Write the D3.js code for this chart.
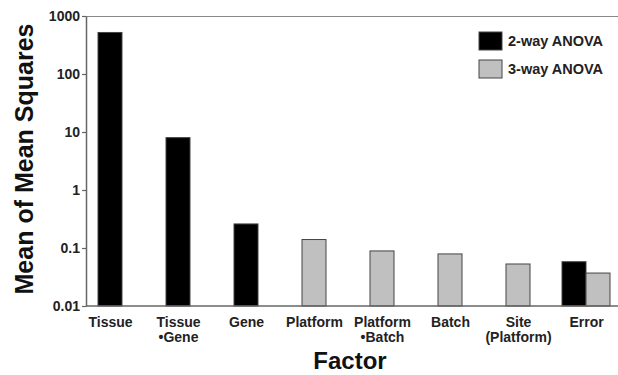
<!DOCTYPE html>
<html>
<head>
<meta charset="utf-8">
<script src="https://cdn.jsdelivr.net/npm/d3@7"></script>
<style>
  body { margin: 0; background: #fff; }
  svg { font-family: "Liberation Sans", Arial, sans-serif; }
</style>
</head>
<body>
<svg id="chart" width="618" height="375"></svg>
<script>
// chart data
var factors = ["Tissue", "Tissue\n\u2022Gene", "Gene", "Platform", "Platform\n\u2022Batch", "Batch", "Site\n(Platform)", "Error"];
var twoWay = [520, 8, 0.26, null, null, null, null, 0.058];
var threeWay = [null, null, null, 0.14, 0.089, 0.079, 0.053, 0.037];
var seriesNames = ["2-way ANOVA", "3-way ANOVA"];
var yTicks = [0.01, 0.1, 1, 10, 100, 1000];

var plotLeft = 86, plotRight = 618, plotTop = 16, plotBottom = 306;
var barWidth = 24;
var colors = ["#000000", "#c0c0c0"];

var svg = d3.select("#chart");

var x = d3.scalePoint()
  .domain(d3.range(factors.length))
  .range([110, 586]);

var y = d3.scaleLog()
  .domain([0.01, 1000])
  .range([plotBottom, plotTop]);

// top frame line
svg.append("line")
  .attr("x1", plotLeft).attr("x2", plotRight)
  .attr("y1", plotTop + 0.5).attr("y2", plotTop + 0.5)
  .attr("stroke", "#888").attr("stroke-width", 1.2);

// bars
var bars = [];
factors.forEach(function(f, i) {
  var both = twoWay[i] != null && threeWay[i] != null;
  if (twoWay[i] != null) bars.push({ i: i, v: twoWay[i], s: 0, off: both ? -barWidth : -barWidth / 2 });
  if (threeWay[i] != null) bars.push({ i: i, v: threeWay[i], s: 1, off: both ? 0 : -barWidth / 2 });
});

svg.append("g").selectAll("rect")
  .data(bars)
  .enter()
  .append("rect")
    .attr("x", function(d) { return x(d.i) + d.off; })
    .attr("y", function(d) { return y(d.v); })
    .attr("width", barWidth)
    .attr("height", function(d) { return plotBottom - y(d.v); })
    .attr("fill", function(d) { return colors[d.s]; })
    .attr("stroke", "#444")
    .attr("stroke-width", 1);

// y axis
var yAxis = svg.append("g")
  .attr("transform", "translate(" + plotLeft + ",0)")
  .call(d3.axisLeft(y).tickValues(yTicks).tickFormat(function(d) { return String(d); }).tickSize(4).tickSizeOuter(0));
yAxis.select(".domain").attr("stroke", "#666").attr("stroke-width", 1.5);
yAxis.selectAll(".tick line").attr("stroke", "#666").attr("stroke-width", 1.2);
yAxis.selectAll(".tick text")
  .attr("x", -6)
  .attr("font-size", 14).attr("font-weight", "bold").attr("fill", "#222")
  .attr("font-family", "Liberation Sans, Arial, sans-serif");

// x axis
var xAxis = svg.append("g")
  .attr("transform", "translate(0," + plotBottom + ")")
  .call(d3.axisBottom(x).tickSize(0).tickFormat(""));
xAxis.select(".domain").attr("d", "M" + plotLeft + ",0H" + plotRight).attr("stroke", "#666").attr("stroke-width", 1.5);

xAxis.selectAll(".tick").each(function(d) {
  var lines = factors[d].split("\n");
  var t = d3.select(this).append("text")
    .attr("text-anchor", "middle")
    .attr("font-size", 14).attr("font-weight", "bold").attr("fill", "#222")
    .attr("font-family", "Liberation Sans, Arial, sans-serif");
  lines.forEach(function(l, k) {
    t.append("tspan").attr("x", 0).attr("y", 21 + k * 15).text(l);
  });
});

// axis titles
svg.append("text")
  .attr("x", 350).attr("y", 369)
  .attr("text-anchor", "middle")
  .attr("font-size", 24).attr("font-weight", "bold").attr("fill", "#111")
  .text("Factor");

svg.append("text")
  .attr("transform", "translate(33,159) rotate(-90)")
  .attr("text-anchor", "middle")
  .attr("font-size", 25).attr("font-weight", "bold").attr("fill", "#111")
  .text("Mean of Mean Squares");

// legend
var legend = svg.append("g").selectAll("g")
  .data(seriesNames)
  .enter()
  .append("g")
    .attr("transform", function(d, i) { return "translate(479," + (32 + i * 28) + ")"; });

legend.append("rect")
  .attr("width", 23).attr("height", 18)
  .attr("fill", function(d, i) { return colors[i]; })
  .attr("stroke", "#444").attr("stroke-width", 1);

legend.append("text")
  .attr("x", 29).attr("y", 14)
  .attr("font-size", 14.5).attr("font-weight", "bold").attr("fill", "#222")
  .text(function(d) { return d; });
</script>
</body>
</html>
